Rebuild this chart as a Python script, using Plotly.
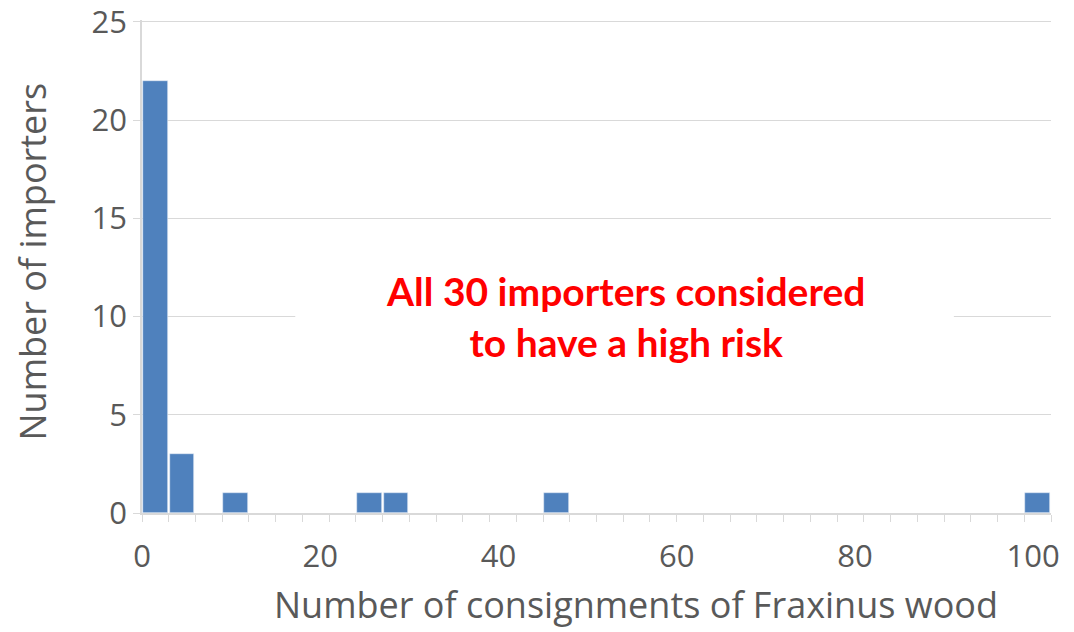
import plotly.graph_objects as go

# Histogram of consignment counts per importer, bins of 3 consignments
bin_starts = [0, 3, 9, 24, 27, 45, 99]
importer_counts = [22, 3, 1, 1, 1, 1, 1]
bin_width = 3
x_label_vals = [0, 20, 40, 60, 80, 100]
y_tick_vals = [0, 5, 10, 15, 20, 25]

bar_color = "#4f81bd"
grid_color = "#d9d9d9"
text_color = "#595959"
font_family = "Open Sans, Lato, sans-serif"

x_max = 102
y_top = 25.1
bin_edges = list(range(0, x_max + 1, bin_width))
centers = [b + bin_width / 2 for b in bin_starts]

fig = go.Figure()
fig.add_trace(go.Bar(
    x=centers, y=importer_counts, width=bin_width * 0.92,
    marker=dict(color=bar_color, line=dict(color="#e8eef6", width=0.6)),
    showlegend=False, hoverinfo="x+y",
))
# carrier for the labelled overlay axis
fig.add_trace(go.Scatter(x=[0, x_max], y=[0, 0], xaxis="x2", mode="markers",
                         marker=dict(opacity=0), showlegend=False, hoverinfo="skip"))

fig.update_layout(
    width=1074, height=632,
    margin=dict(l=142, r=23, t=20, b=119),
    paper_bgcolor="white", plot_bgcolor="white",
    font=dict(family=font_family, color=text_color, size=31),
    bargap=0,
    xaxis=dict(
        range=[0, x_max], tickmode="array", tickvals=bin_edges,
        ticktext=[""] * len(bin_edges), automargin=False,
        ticks="outside", ticklen=7, tickcolor=grid_color, tickwidth=1.3,
        showline=True, linecolor=grid_color, linewidth=1.5,
        showgrid=False, zeroline=False,
    ),
    xaxis2=dict(
        range=[0, x_max], overlaying="x", side="bottom", anchor="y",
        tickmode="array", tickvals=x_label_vals, automargin=False,
        ticks="", showline=False, showgrid=False, zeroline=False,
        ticklabelstandoff=22, ticklabeloverflow="allow",
        tickfont=dict(size=31, color=text_color),
    ),
    yaxis=dict(
        range=[0, y_top], tickmode="array", tickvals=y_tick_vals,
        automargin=False, ticklabeloverflow="allow",
        ticks="outside", ticklen=7, tickcolor=grid_color,
        showline=True, linecolor=grid_color, linewidth=1.5,
        showgrid=True, gridcolor=grid_color, gridwidth=1.3,
        zeroline=False,
        tickfont=dict(size=31, color=text_color),
    ),
)

# axis titles
fig.add_annotation(
    text="Number of consignments of Fraxinus wood",
    xref="paper", yref="paper", x=0.5435, y=-0.186,
    xanchor="center", yanchor="middle", showarrow=False,
    font=dict(size=36, color=text_color), borderpad=0,
)
fig.add_annotation(
    text="Number of importers",
    xref="paper", yref="paper", x=-0.12, y=0.51,
    xanchor="center", yanchor="middle", textangle=-90, showarrow=False,
    font=dict(size=36, color=text_color), borderpad=0,
)

# white band behind the note, breaking the gridline at 10
fig.add_shape(type="rect", x0=17.2, x1=91.1, y0=8.6, y1=11.4,
              fillcolor="white", line=dict(width=0), layer="above")

fig.add_annotation(
    x=54.2, y=10.0, xref="x", yref="y",
    text="<b>All 30 importers considered<br>to have a high risk</b>",
    showarrow=False,
    font=dict(family="Lato, Open Sans, sans-serif", size=39, color="#ff0000"),
    align="center",
)

fig.write_html("out.html")
